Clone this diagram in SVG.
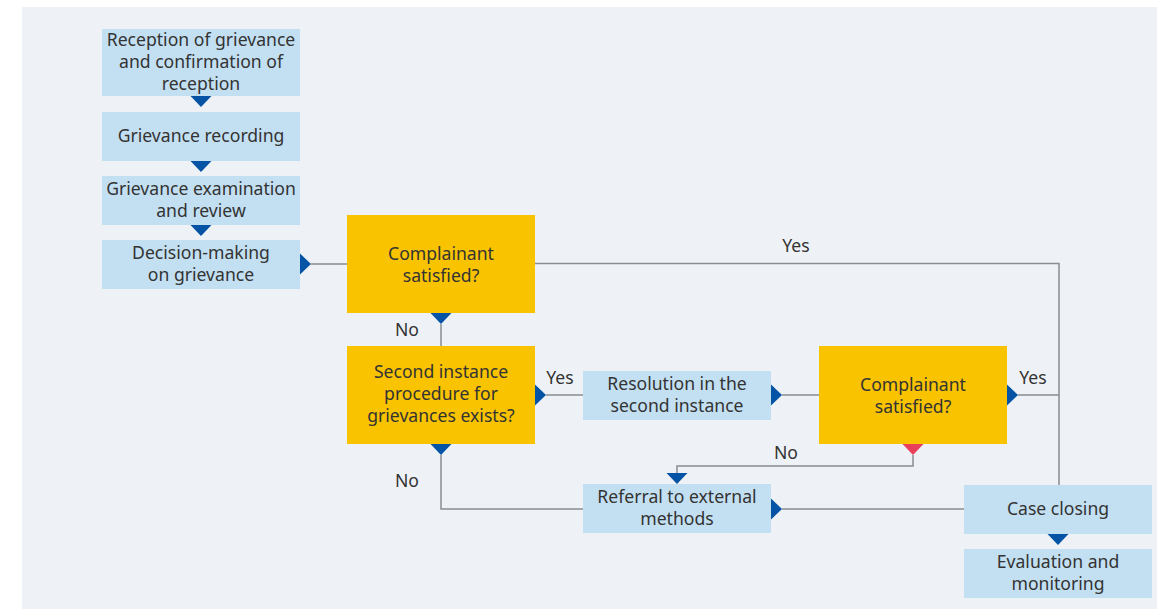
<svg xmlns="http://www.w3.org/2000/svg" xmlns:xlink="http://www.w3.org/1999/xlink" width="1157" height="609" viewBox="0 0 1157 609">
<style>
.bg{fill:#eef2f6}
.box{fill:#c3e0f2}
.dec{fill:#f9c300}
.t{font-family:"Noto Sans","Open Sans","Liberation Sans",sans-serif;font-size:17.6px;fill:#333;text-anchor:middle;dominant-baseline:central}
.ln{fill:none;stroke:#8a8c8e;stroke-width:1.5}
.tri{fill:#0453a4}
.red{fill:#e8405a}
</style>
<defs>
<polygon id="down" points="-10.5,0 10.5,0 0,11"/>
<polygon id="right" points="0,-10.5 0,10.5 11,0"/>
</defs>
<rect class="bg" x="22" y="7" width="1135" height="602"/>
<g id="connectors">
<path class="ln" d="M311,264 H347"/>
<path class="ln" d="M535,263.5 H1059 V485"/>
<path class="ln" d="M441,324 V346"/>
<path class="ln" d="M546,395 H583"/>
<path class="ln" d="M782,395 H819"/>
<path class="ln" d="M1018,395 H1059"/>
<path class="ln" d="M913,455 V466 H677 V473"/>
<path class="ln" d="M441,455 V509 H583"/>
<path class="ln" d="M782,509 H964"/>
<use class="tri" href="#down" x="201" y="96"/>
<use class="tri" href="#down" x="201" y="161"/>
<use class="tri" href="#down" x="201" y="225"/>
<use class="tri" href="#right" x="300" y="264"/>
<use class="tri" href="#down" x="441" y="313"/>
<use class="tri" href="#right" x="535" y="395"/>
<use class="tri" href="#down" x="441" y="444"/>
<use class="tri" href="#right" x="771" y="395"/>
<use class="tri" href="#right" x="1007" y="395"/>
<use class="red" href="#down" x="913" y="444"/>
<use class="tri" href="#down" x="677" y="473"/>
<use class="tri" href="#right" x="771" y="509"/>
<use class="tri" href="#down" x="1058" y="534"/>
<text class="t" x="796" y="245">Yes</text>
<text class="t" x="407" y="329">No</text>
<text class="t" x="560" y="377">Yes</text>
<text class="t" x="1033" y="377">Yes</text>
<text class="t" x="786" y="452">No</text>
<text class="t" x="407" y="480">No</text>
</g>
<g id="n1"><rect class="box" x="102" y="29" width="198" height="67"/>
<text class="t" x="201" y="38.5">Reception of grievance</text>
<text class="t" x="201" y="60.5">and confirmation of</text>
<text class="t" x="201" y="82.5">reception</text></g>
<g id="n2"><rect class="box" x="102" y="112" width="198" height="49"/>
<text class="t" x="201" y="135">Grievance recording</text></g>
<g id="n3"><rect class="box" x="102" y="176" width="198" height="49"/>
<text class="t" x="201" y="187.5">Grievance examination</text>
<text class="t" x="201" y="209.5">and review</text></g>
<g id="n4"><rect class="box" x="102" y="240" width="198" height="49"/>
<text class="t" x="201" y="251.5">Decision-making</text>
<text class="t" x="201" y="273.5">on grievance</text></g>
<g id="d1"><rect class="dec" x="347" y="215" width="188" height="98"/>
<text class="t" x="441" y="253">Complainant</text>
<text class="t" x="441" y="275">satisfied?</text></g>
<g id="d2"><rect class="dec" x="347" y="346" width="188" height="98"/>
<text class="t" x="441" y="371">Second instance</text>
<text class="t" x="441" y="393">procedure for</text>
<text class="t" x="441" y="415">grievances exists?</text></g>
<g id="n5"><rect class="box" x="583" y="371" width="188" height="49"/>
<text class="t" x="677" y="383">Resolution in the</text>
<text class="t" x="677" y="405">second instance</text></g>
<g id="d3"><rect class="dec" x="819" y="346" width="188" height="98"/>
<text class="t" x="913" y="384">Complainant</text>
<text class="t" x="913" y="406">satisfied?</text></g>
<g id="n6"><rect class="box" x="583" y="484" width="188" height="49"/>
<text class="t" x="677" y="496">Referral to external</text>
<text class="t" x="677" y="518">methods</text></g>
<g id="n7"><rect class="box" x="964" y="485" width="188" height="49"/>
<text class="t" x="1058" y="508">Case closing</text></g>
<g id="n8"><rect class="box" x="964" y="549" width="188" height="49"/>
<text class="t" x="1058" y="561">Evaluation and</text>
<text class="t" x="1058" y="583">monitoring</text></g>
</svg>
